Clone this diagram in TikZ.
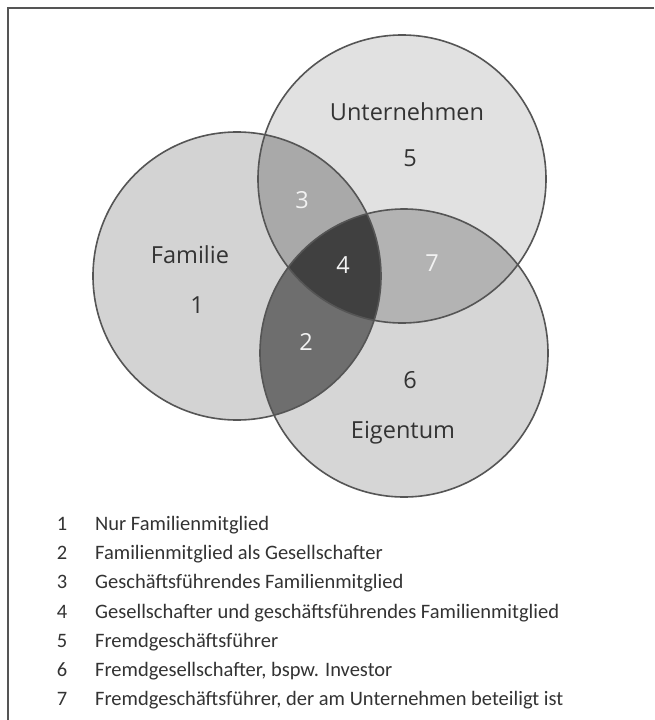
\documentclass[tikz,border=0pt]{standalone}
\usepackage{fontspec}
\setmainfont{Open Sans}
\newfontfamily\legendfont{Carlito}
\definecolor{famfill}{HTML}{D3D3D3}
\definecolor{untfill}{HTML}{E1E1E1}
\definecolor{eigfill}{HTML}{D6D6D6}
\definecolor{fuFill}{HTML}{A9A9A9}
\definecolor{ueFill}{HTML}{B3B3B3}
\definecolor{feFill}{HTML}{6E6E6E}
\definecolor{allFill}{HTML}{404040}
\definecolor{rim}{HTML}{555555}
\definecolor{ink}{HTML}{333333}
\definecolor{light}{HTML}{F2F2F2}
\begin{document}
\begin{tikzpicture}[x=1pt,y=-1pt,
  rimline/.style={draw=rim,line width=1.6pt},
  setname/.style={font=\fontsize{23.5}{26}\selectfont,text=ink,inner sep=0pt},
  darknum/.style={font=\fontsize{23.5}{26}\selectfont,text=ink,inner sep=0pt},
  lightnum/.style={font=\fontsize{23.5}{26}\selectfont,text=light,inner sep=0pt},
  legnum/.style={font=\legendfont\fontsize{20.5}{24}\selectfont,text=ink,anchor=base,inner sep=0pt},
  legtext/.style={font=\legendfont\fontsize{20.5}{24}\selectfont,text=ink,anchor=base west,inner sep=0pt}]
\useasboundingbox (0,0) rectangle (654,720);
\fill[white] (0,0) rectangle (654,720);

% frame (top and left edges)
\draw[draw=rim,line width=2pt] (654,8) -- (8,8) -- (8,720);

% circle centres
\coordinate (cF) at (237,276);
\coordinate (cU) at (402,179);
\coordinate (cE) at (404,353);
\def\rr{144}

% base discs
\fill[famfill] (cF) circle (\rr);
\fill[untfill] (cU) circle (\rr);
\fill[eigfill] (cE) circle (\rr);

% pairwise overlaps
\begin{scope}
  \clip (cF) circle (\rr);
  \fill[fuFill] (cU) circle (\rr);
  \fill[feFill] (cE) circle (\rr);
\end{scope}
\begin{scope}
  \clip (cU) circle (\rr);
  \fill[ueFill] (cE) circle (\rr);
\end{scope}
% triple overlap
\begin{scope}
  \clip (cF) circle (\rr);
  \clip (cU) circle (\rr);
  \fill[allFill] (cE) circle (\rr);
\end{scope}

% outlines
\draw[rimline] (cF) circle (\rr);
\draw[rimline] (cU) circle (\rr);
\draw[rimline] (cE) circle (\rr);

% set names and region numbers
\node[setname] (nU) at (407,112) {Unternehmen};
\node[darknum] (n5) at (410,158) {5};
\node[lightnum] (n3) at (302,200) {3};
\node[setname] (nF) at (190,255) {Familie};
\node[darknum] (n1) at (197,305) {1};
\node[lightnum] (n4) at (343,265) {4};
\node[lightnum] (n7) at (432,263) {7};
\node[lightnum] (n2) at (306,342) {2};
\node[darknum] (n6) at (410,380) {6};
\node[setname] (nE) at (403,433) {Eigentum};

% legend
\foreach \k/\txt [count=\i from 0] in {
  1/Nur Familienmitglied,
  2/Familienmitglied als Gesellschafter,
  3/Geschäftsführendes Familienmitglied,
  4/Gesellschafter und geschäftsführendes Familienmitglied,
  5/Fremdgeschäftsführer,
  6/{Fremdgesellschafter, bspw. Investor},
  7/{Fremdgeschäftsführer, der am Unternehmen beteiligt ist}} {
  \node[legnum] (ln\k) at (62,530.5+29.17*\i) {\k};
  \node[legtext] (lt\k) at (95,530.5+29.17*\i) {\txt};
}
\end{tikzpicture}
\end{document}
